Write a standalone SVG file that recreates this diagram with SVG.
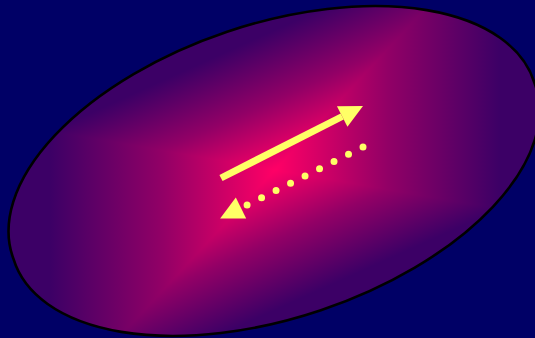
<svg xmlns="http://www.w3.org/2000/svg" xmlns:xlink="http://www.w3.org/1999/xlink" width="535" height="338" viewBox="0 0 535 338">
  <defs>
    <style>
      .arrow { stroke: #ffff66; stroke-width: 7; fill: none; }
      .dotted { stroke-dasharray: 0 16.2; stroke-linecap: round; }
    </style>
    <linearGradient id="g1" gradientUnits="userSpaceOnUse" x1="50" y1="0" x2="500" y2="0">
      <stop offset="0" stop-color="#3c0066"/>
      <stop offset="0.25" stop-color="#920066"/>
      <stop offset="0.5" stop-color="#ff0066"/>
      <stop offset="0.75" stop-color="#920066"/>
      <stop offset="1" stop-color="#3c0066"/>
    </linearGradient>
    <linearGradient id="g2" gradientUnits="userSpaceOnUse" x1="222.6" y1="53.5" x2="327.4" y2="286.5" xlink:href="#g1" href="#g1"/>
    <path id="shape" d="M13.4,258.7 A275,144.5 -18.6 1 1 534.6,83.3 A275,144.5 -18.6 1 1 13.4,258.7 Z"/>
    <marker id="head" markerUnits="userSpaceOnUse" markerWidth="24" markerHeight="24" viewBox="0 -12 24 24" refX="0" refY="0" orient="auto" overflow="visible">
      <path d="M0,-11.6 L23.3,0 L0,11.6 Z" fill="#ffff66"/>
    </marker>
  </defs>
  <rect width="535" height="338" fill="#000066"/>
  <g id="blob">
    <use xlink:href="#shape" href="#shape" fill="url(#g1)"/>
    <use xlink:href="#shape" href="#shape" fill="url(#g2)" style="mix-blend-mode:darken"/>
    <use xlink:href="#shape" href="#shape" fill="none" stroke="#000000" stroke-width="2.6"/>
  </g>
  <g id="connectors">
    <path class="arrow" d="M221,178 L342.2,116.5" marker-end="url(#head)"/>
    <path class="arrow dotted" d="M363,147 L241,208" marker-end="url(#head)"/>
  </g>
</svg>
